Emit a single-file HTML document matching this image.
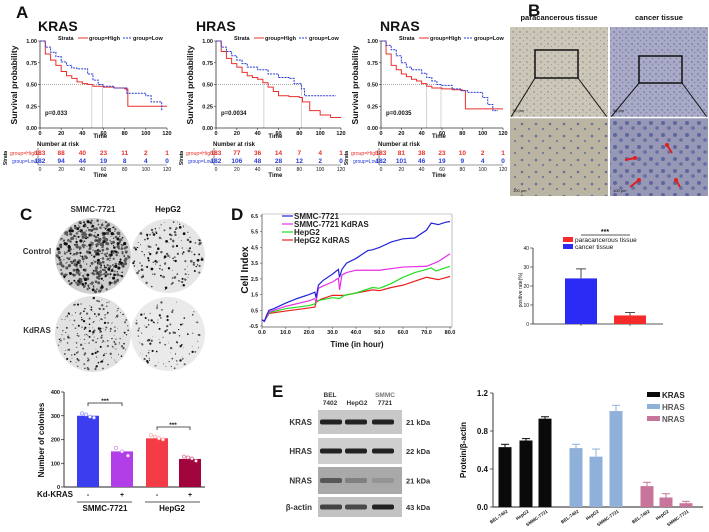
<!DOCTYPE html>
<html><head><meta charset="utf-8"><style>
html,body{margin:0;padding:0;background:#fff;width:709px;height:532px;overflow:hidden}
svg{display:block;font-family:"Liberation Sans",Arial,sans-serif}
</style></head><body>
<svg id="fig" width="709" height="532" viewBox="0 0 709 532" xmlns="http://www.w3.org/2000/svg">
<defs>
<pattern id="paraTop" width="7" height="6" patternUnits="userSpaceOnUse"><rect width="7" height="6" fill="#cbc6b6"/><circle cx="2" cy="2" r="0.7" fill="#7a7f98"/><circle cx="5.5" cy="4.5" r="0.5" fill="#8a8ea4"/></pattern>
<pattern id="cancTop" width="6" height="6" patternUnits="userSpaceOnUse"><rect width="6" height="6" fill="#a9abc6"/><circle cx="2" cy="2" r="0.9" fill="#7278a6"/><circle cx="4.5" cy="4.5" r="0.8" fill="#7d82ae"/></pattern>
<pattern id="paraBot" width="14" height="12" patternUnits="userSpaceOnUse"><rect width="14" height="12" fill="#bab4a2"/><circle cx="4" cy="4" r="1.3" fill="#6a7294"/><circle cx="11" cy="9" r="1.1" fill="#737a98"/></pattern>
<pattern id="cancBot" width="12" height="12" patternUnits="userSpaceOnUse"><rect width="12" height="12" fill="#9698b6"/><circle cx="3" cy="3" r="2" fill="#5f669e"/><circle cx="9" cy="8" r="1.8" fill="#676ea2"/></pattern>
</defs>
</svg>
<script>
// ===== Panel A data (Kaplan-Meier) =====
const kmTicksX = [0,20,40,60,80,100,120];
const kmTicksY = [0,0.25,0.5,0.75,1.0];
const krasHighT = [0,5,10,15,20,25,30,35,40,45,50,60,70,80,83,120];
const krasHighS = [1,0.85,0.78,0.72,0.65,0.6,0.57,0.53,0.51,0.5,0.48,0.47,0.46,0.45,0.25,0.25];
const krasLowT = [0,5,10,15,20,25,30,35,45,50,55,60,70,82,100,105,115];
const krasLowS = [1,0.93,0.87,0.82,0.76,0.72,0.69,0.68,0.62,0.55,0.5,0.48,0.46,0.4,0.37,0.3,0.2];
const hrasHighT = [0,5,10,15,20,25,30,35,40,45,50,55,60,70,80,83,90,100,110,120];
const hrasHighS = [1,0.88,0.8,0.74,0.7,0.64,0.6,0.58,0.56,0.52,0.47,0.42,0.37,0.36,0.35,0.3,0.2,0.15,0.12,0.12];
const hrasLowT = [0,5,10,15,20,25,30,40,50,60,70,75,80,82,85,115];
const hrasLowS = [1,0.93,0.88,0.83,0.78,0.74,0.7,0.67,0.62,0.58,0.57,0.51,0.51,0.45,0.37,0.37];
const nrasHighT = [0,5,10,15,20,25,30,35,40,45,50,60,70,80,83,120];
const nrasHighS = [1,0.85,0.72,0.67,0.62,0.59,0.56,0.54,0.51,0.48,0.46,0.45,0.44,0.43,0.22,0.22];
const nrasLowT = [0,5,10,15,20,25,30,40,45,50,55,60,70,78,85,100,105,110,115];
const nrasLowS = [1,0.95,0.9,0.83,0.75,0.7,0.67,0.63,0.58,0.54,0.5,0.49,0.45,0.43,0.41,0.35,0.27,0.2,0.2];
const krasRiskHigh = [183,88,40,23,11,2,1];
const krasRiskLow = [182,94,44,19,8,4,0];
const hrasRiskHigh = [183,77,36,14,7,4,1];
const hrasRiskLow = [182,106,48,28,12,2,0];
const nrasRiskHigh = [183,81,38,23,10,2,1];
const nrasRiskLow = [182,101,46,19,9,4,0];
const krasMedians = [49,59];
const hrasMedians = [46,82];
const nrasMedians = [45,59];
// ===== Panel B bar data =====
const ihcCats = ['cancer tissue','paracancerous tissue'];
const ihcValues = [24,4.5];
const ihcErrors = [5,1.5];
const ihcTicks = [0,10,20,30,40];
// ===== Panel C bar data =====
const colCats = ['SMMC-7721 -','SMMC-7721 +','HepG2 -','HepG2 +'];
const colValues = [300,150,205,118];
const colDots = [[310,305,296,292],[165,150,132],[218,212,205,200],[128,124,120,110]];
const colTicks = [0,100,200,300,400];
// ===== Panel D data (cell index) =====
const ciTicksX = [0,10,20,30,40,50,60,70,80];
const ciTicksY = [-0.5,0.5,1.5,2.5,3.5,4.5,5.5,6.5];
const smmcT = [0,1,2,3,5,10,15,20,22.5,23,24,26,30,32.5,33,34,36,40,45,47,50,55,60,65,70,72,75,78,80];
const smmcV = [-0.1,-0.2,0.2,0.5,0.6,0.95,1.25,1.5,1.65,1.3,2.1,2.4,2.8,3.1,2.6,3.1,3.5,3.8,4.3,4.35,4.5,4.85,5.05,5.1,5.6,6.05,5.95,6.1,6.15];
const smmcKdT = [0,1,3,10,20,22.5,23,24,26,30,32.5,33,34,36,40,50,60,70,75,80];
const smmcKdV = [-0.1,-0.2,0.4,0.75,1.1,1.25,1.0,1.9,2.05,2.3,2.55,1.8,2.75,2.9,3.05,3.05,3.25,3.3,3.6,4.1];
const hepT = [0,1,3,10,20,22.5,23,25,30,33,35,40,47,50,55,60,65,70,72,74,80];
const hepV = [-0.1,-0.2,0.35,0.6,0.8,0.9,1.1,1.15,1.3,1.25,1.45,1.6,1.95,1.9,2.2,2.6,2.9,3.1,3.2,3.0,3.3];
const hepKdT = [0,1,3,10,20,22.5,23,25,30,33,35,40,47,50,55,60,65,70,75,80];
const hepKdV = [-0.1,-0.2,0.3,0.45,0.65,0.7,1.0,1.2,1.45,1.45,1.45,1.6,1.8,1.75,1.95,2.1,2.35,2.6,2.45,2.65];
// ===== Panel E bar data =====
const eCells = ['BEL-7402','HepG2','SMMC-7721'];
const eKras = [0.63,0.70,0.93];
const eKrasErr = [0.03,0.02,0.02];
const eHras = [0.62,0.53,1.01];
const eHrasErr = [0.04,0.08,0.06];
const eNras = [0.22,0.10,0.04];
const eNrasErr = [0.04,0.04,0.02];
const eTicks = [0,0.4,0.8,1.2];

const NS='http://www.w3.org/2000/svg';
const svg=document.getElementById('fig');
function mk(t,a,p){const e=document.createElementNS(NS,t);for(const k in a)e.setAttribute(k,a[k]);(p||svg).appendChild(e);return e;}
function nm(e,n,i){
  
  
  return e;}
function tx(x,y,s,size,o){o=o||{};const e=mk('text',{x:x,y:y,'font-size':size,'font-weight':o.w||'bold',fill:o.f||'#111','text-anchor':o.a||'start'});if(o.r)e.setAttribute('transform','rotate('+o.r+' '+x+' '+y+')');if(o.tl){e.setAttribute('textLength',o.tl);e.setAttribute('lengthAdjust','spacingAndGlyphs');}e.textContent=s;return e;}
function ln(x1,y1,x2,y2,c,w,d){const e=mk('line',{x1:x1,y1:y1,x2:x2,y2:y2,stroke:c||'#222','stroke-width':w||1});if(d)e.setAttribute('stroke-dasharray',d);return e;}
function rc(x,y,w,h,f){return mk('rect',{x:x,y:y,width:w,height:h,fill:f});}

// panel letters
nm(tx(16,18,'A',17),'panel-label-a');
nm(tx(528,16,'B',17),'panel-label-b');
nm(tx(20,220,'C',17),'panel-label-c');
nm(tx(231,220,'D',17),'panel-label-d');
nm(tx(272,397,'E',17),'panel-label-e');

// ===== Panel A =====
function km(c){
  const X=t=>c.x0+(c.x1-c.x0)*t/120, Y=s=>128-(128-41)*s;
  nm(tx(c.tx,31,c.title,14),c.key+'-title');
  nm(tx(c.x0+18,40,'Strata',5.5),c.key+'-legend-title');
  nm(ln(c.x0+38,38,c.x0+48,38,'#e8302a',1),c.key+'-legend-high-line');
  nm(tx(c.x0+49,40,'group=High',5.5),c.key+'-legend-high');
  nm(ln(c.x0+83,38,c.x0+92,38,'#2a3ad8',1,'2,1'),c.key+'-legend-low-line');
  nm(tx(c.x0+93,40,'group=Low',5.5),c.key+'-legend-low');
  nm(ln(c.x0,41,c.x0,128,'#333',0.8),c.key+'-y-axis');
  nm(ln(c.x0,128,c.x1,128,'#333',0.8),c.key+'-x-axis');
  kmTicksY.forEach(v=>{ln(c.x0-2,Y(v),c.x0,Y(v),'#333',0.6);nm(tx(c.x0-3,Y(v)+2,v.toFixed(2),5.5,{a:'end'}),c.key+'-y-tick');});
  kmTicksX.forEach(v=>{ln(X(v),128,X(v),130,'#333',0.6);nm(tx(X(v),135,String(v),5.5,{a:'middle'}),c.key+'-x-tick');});
  nm(tx(c.x0-23,85,'Survival probability',8.5,{a:'middle',r:-90}),c.key+'-y-axis-title');
  nm(tx(X(57),138,'Time',6,{a:'middle'}),c.key+'-x-axis-title');
  nm(ln(c.x0,Y(0.5),X(c.med[1]),Y(0.5),'#555',0.5,'1,1'),c.key+'-median-h');
  c.med.forEach(m=>nm(ln(X(m),Y(0.5),X(m),128,'#555',0.5,'1,1'),c.key+'-median-v'));
  function step(T,S,col,dash,name){let d='M'+X(T[0])+','+Y(S[0]);for(let i=1;i<T.length;i++)d+=' H'+X(T[i])+' V'+Y(S[i]);const p=mk('path',{d:d,fill:'none',stroke:col,'stroke-width':1});if(dash)p.setAttribute('stroke-dasharray',dash);nm(p,name);}
  step(c.hT,c.hS,'#e8302a',null,c.key+'-curve-high');
  step(c.lT,c.lS,'#2a3ad8','2,1',c.key+'-curve-low');
  nm(tx(c.x0+5,115,c.p,6,{w:'bold'}),c.key+'-p-value');
  nm(tx(c.x0-3,146,'Number at risk',6),c.key+'-risk-title');
  ln(c.x0-2,148,c.x0-2,165,'#333',0.6);ln(c.x0-2,165,c.x1,165,'#333',0.6);
  nm(tx(c.x0-3,155,'group=High',5,{a:'end',f:'#e8302a',w:'normal',tl:27}),c.key+'-risk-label-high');
  nm(tx(c.x0-3,163,'group=Low',5,{a:'end',f:'#2a3ad8',w:'normal',tl:25}),c.key+'-risk-label-low');
  nm(tx(c.x0-33,158,'Strata',5,{a:'middle',r:-90}),c.key+'-risk-strata');
  kmTicksX.forEach((v,i)=>{
    nm(tx(X(v),155,String(c.rH[i]),6.5,{a:'middle',f:'#e8302a'}),c.key+'-risk-high');
    nm(tx(X(v),163,String(c.rL[i]),6.5,{a:'middle',f:'#2a3ad8'}),c.key+'-risk-low');
    nm(tx(X(v),171,String(v),5,{a:'middle',w:'normal'}),c.key+'-risk-tick');
  });
  nm(tx(X(57),177,'Time',6,{a:'middle'}),c.key+'-risk-time');
}
km({key:'kras',title:'KRAS',tx:38,x0:40,x1:167,hT:krasHighT,hS:krasHighS,lT:krasLowT,lS:krasLowS,med:krasMedians,p:'p=0.033',rH:krasRiskHigh,rL:krasRiskLow});
km({key:'hras',title:'HRAS',tx:196,x0:216,x1:341,hT:hrasHighT,hS:hrasHighS,lT:hrasLowT,lS:hrasLowS,med:hrasMedians,p:'p=0.0034',rH:hrasRiskHigh,rL:hrasRiskLow});
km({key:'nras',title:'NRAS',tx:380,x0:381,x1:503,hT:nrasHighT,hS:nrasHighS,lT:nrasLowT,lS:nrasLowS,med:nrasMedians,p:'p=0.0035',rH:nrasRiskHigh,rL:nrasRiskLow});

// ===== Panel B images =====
nm(tx(559,20,'paracancerous tissue',7.5,{a:'middle'}),'para-header');
nm(tx(659,20,'cancer tissue',7.5,{a:'middle'}),'cancer-header');
nm(rc(510,27,98,90,'url(#paraTop)'),'para-image-low-mag');
nm(rc(610,27,98,90,'url(#cancTop)'),'cancer-image-low-mag');
nm(rc(510,118,98,78,'url(#paraBot)'),'para-image-high-mag');
nm(rc(610,118,98,78,'url(#cancBot)'),'cancer-image-high-mag');
nm(mk('rect',{x:535,y:50,width:43,height:28,fill:'none',stroke:'#111','stroke-width':1.5}),'para-inset-box');
nm(mk('rect',{x:639,y:56,width:43,height:27,fill:'none',stroke:'#111','stroke-width':1.5}),'cancer-inset-box');
ln(535,78,511,117,'#111',1);ln(578,78,607,117,'#111',1);
ln(639,83,611,117,'#111',1);ln(682,83,707,117,'#111',1);
ln(510,117.5,708,117.5,'#fff',1.5);ln(609,27,609,196,'#fff',1.5);
nm(tx(513,112,'50 μm',4,{w:'normal'}),'para-scale-bar');
nm(tx(613,112,'50 μm',4,{w:'normal'}),'cancer-scale-bar');
nm(tx(513,192,'100 μm',4,{w:'normal'}),'para-scale-bar-2');
nm(tx(613,192,'100 μm',4,{w:'normal'}),'cancer-scale-bar-2');
[[625,160,635,158],[672,153,667,145],[630,187,639,180],[680,187,676,180]].forEach(a=>{
  nm(ln(a[0],a[1],a[2],a[3],'#e02020',2),'ihc-arrow');
  nm(mk('circle',{cx:a[2],cy:a[3],r:2,fill:'#e02020'}),'ihc-arrow-head');
});
(function(){
  const y0=324,sc=1.9,Y=v=>y0-v*sc;
  nm(ln(533,Y(40),533,y0,'#222',0.8),'ihc-y-axis');
  nm(ln(533,y0,663,y0,'#222',0.8),'ihc-x-axis');
  ihcTicks.forEach(v=>{ln(530,Y(v),533,Y(v),'#222',0.6);nm(tx(529,Y(v)+2,String(v),5,{a:'end',w:'normal'}),'ihc-y-tick');});
  nm(tx(522,290,'positive rate(%)',5,{a:'middle',w:'normal',r:-90}),'ihc-y-axis-title');
  const cx=[581,630],col=['#2b2bf5','#f52b2b'];
  ihcValues.forEach((v,i)=>{
    nm(rc(cx[i]-16,Y(v),32,v*sc,col[i]),'ihc-bar-'+(i?'para':'cancer'));
    nm(ln(cx[i],Y(v),cx[i],Y(v+ihcErrors[i]),'#222',0.8),'ihc-error');
    ln(cx[i]-5,Y(v+ihcErrors[i]),cx[i]+5,Y(v+ihcErrors[i]),'#222',0.8);
    ln(cx[i],y0,cx[i],y0+2,'#222',0.6);
  });
  nm(ln(581,235,630,235,'#222',0.8),'ihc-sig-bracket');
  nm(tx(605,234,'***',7,{a:'middle'}),'ihc-sig-stars');
  nm(rc(563,237,10,5,'#f52b2b'),'ihc-legend-para-swatch');
  nm(tx(575,242,'paracancerous tissue',6.5,{w:'normal'}),'ihc-legend-para');
  nm(rc(563,244,10,5,'#2b2bf5'),'ihc-legend-cancer-swatch');
  nm(tx(575,249,'cancer tissue',6.5,{w:'normal'}),'ihc-legend-cancer');
})();

// ===== Panel C dishes =====
let seed=7;function rnd(){seed=(seed*16807)%2147483647;return seed/2147483647;}
function dish(cx,cy,r,n,maxR,bg,name){
  const g=nm(mk('g',{}),name);
  mk('circle',{cx:cx,cy:cy,r:r,fill:bg},g);
  for(let i=0;i<n;i++){const a=rnd()*6.283,d=Math.sqrt(rnd())*r*0.96;mk('circle',{cx:cx+d*Math.cos(a),cy:cy+d*Math.sin(a),r:0.3+rnd()*maxR,fill:rnd()<0.4?'#111':'#555'},g);}
}
nm(tx(93,212,'SMMC-7721',8,{a:'middle',f:'#333'}),'colony-col-smmc');
nm(tx(168,212,'HepG2',8,{a:'middle'}),'colony-col-hepg2');
nm(tx(37,254,'Control',8,{a:'middle',f:'#333'}),'colony-row-control');
nm(tx(37,333,'KdRAS',8,{a:'middle',f:'#333'}),'colony-row-kdras');
dish(93,256,38,520,1.4,'#cfcfcf','dish-smmc-control');
dish(168,256,37,170,1.1,'#e6e6e6','dish-hepg2-control');
dish(93,334,38,220,0.9,'#e2e2e2','dish-smmc-kdras');
dish(168,334,37,110,0.9,'#eaeaea','dish-hepg2-kdras');

(function(){
  const y0=487,sc=95/400,Y=v=>y0-v*sc;
  nm(ln(64,392,64,y0,'#222',0.9),'colony-y-axis');
  nm(ln(64,y0,205,y0,'#222',0.9),'colony-x-axis');
  colTicks.forEach(v=>{ln(61,Y(v),64,Y(v),'#222',0.7);nm(tx(60,Y(v)+2,String(v),5.5,{a:'end'}),'colony-y-tick');});
  nm(tx(44,440,'Number of colonies',8,{a:'middle',r:-90}),'colony-y-axis-title');
  const cx=[88,122,157,190],col=['#3d3df0','#b23ee8','#f43c46','#a0063d'],stroke=['#7d7dff','#d07af5','#ff8a8a','#d04070'];
  colValues.forEach((v,i)=>{
    nm(rc(cx[i]-11,Y(v),22,v*sc,col[i]),'colony-bar-'+i);
    colDots[i].forEach((d,j)=>nm(mk('circle',{cx:cx[i]-6+j*12/Math.max(1,colDots[i].length-1),cy:Y(d),r:1.6,fill:'#fff',stroke:stroke[i],'stroke-width':0.6}),'colony-point'));
    nm(tx(cx[i],497,i%2?'+':'-',7,{a:'middle'}),'kd-sign');
  });
  nm(mk('path',{d:'M88,406 V403 H122 V406',fill:'none',stroke:'#222','stroke-width':0.8}),'colony-sig-1');
  nm(tx(105,403,'***',6.5,{a:'middle'}),'colony-stars-1');
  nm(mk('path',{d:'M157,430 V427 H190 V430',fill:'none',stroke:'#222','stroke-width':0.8}),'colony-sig-2');
  nm(tx(173,427,'***',6.5,{a:'middle'}),'colony-stars-2');
  nm(tx(73,497,'Kd-KRAS',8,{a:'end'}),'kd-kras-label');
  ln(77,502,132,502,'#222',0.8);ln(145,502,200,502,'#222',0.8);
  nm(tx(105,511,'SMMC-7721',8,{a:'middle'}),'group-smmc');
  nm(tx(172,511,'HepG2',8,{a:'middle'}),'group-hepg2');
})();

// ===== Panel D =====
(function(){
  const X=t=>262+(450-262)*t/80, Y=v=>326-(v+0.5)*(110/7);
  nm(ln(262,214,262,327,'#555',0.8),'ci-y-axis');
  nm(ln(262,327,452,327,'#555',0.8),'ci-x-axis');
  ln(452,214,452,327,'#999',0.6);ln(262,214,452,214,'#999',0.6);
  ciTicksY.forEach(v=>{ln(260,Y(v),262,Y(v),'#555',0.6);nm(tx(258,Y(v)+2,v.toFixed(1),5,{a:'end'}),'ci-y-tick');});
  ciTicksX.forEach(v=>{ln(X(v),327,X(v),329,'#555',0.6);nm(tx(X(v),334,v.toFixed(1),5.5,{a:'middle'}),'ci-x-tick');});
  nm(tx(248,270,'Cell Index',10,{a:'middle',r:-90}),'ci-y-axis-title');
  nm(tx(357,347,'Time (in hour)',8,{a:'middle'}),'ci-x-axis-title');
  function line(T,V,c,name){nm(mk('polyline',{points:T.map((t,i)=>X(t)+','+Y(V[i])).join(' '),fill:'none',stroke:c,'stroke-width':1.2}),name);}
  line(hepKdT,hepKdV,'#e82020','ci-line-hepg2-kdras');
  line(hepT,hepV,'#22dd22','ci-line-hepg2');
  line(smmcKdT,smmcKdV,'#e82ee8','ci-line-smmc-kdras');
  line(smmcT,smmcV,'#2222dd','ci-line-smmc');
  [['SMMC-7721','#2222dd'],['SMMC-7721 KdRAS','#e82ee8'],['HepG2','#22dd22'],['HepG2 KdRAS','#e82020']].forEach((e,i)=>{
    nm(ln(282,216+i*8,293,216+i*8,e[1],1.2),'ci-legend-line');
    nm(tx(294,219+i*8,e[0],8,{f:'#222'}),'ci-legend-label');
  });
})();

// ===== Panel E blots =====
nm(tx(330,397,'BEL',6.5,{a:'middle',f:'#333'}),'blot-col-bel');
nm(tx(330,405,'7402',6.5,{a:'middle',f:'#333'}),'blot-col-bel-2');
nm(tx(357,405,'HepG2',6.5,{a:'middle',f:'#333'}),'blot-col-hepg2');
nm(tx(385,397,'SMMC',6.5,{a:'middle',f:'#777'}),'blot-col-smmc');
nm(tx(385,405,'7721',6.5,{a:'middle',f:'#333'}),'blot-col-smmc-2');
[['KRAS',410,434,'21 kDa',[1,1,1],'#c8c8c8'],['HRAS',438,464,'22 kDa',[1,1,1],'#cfcfcf'],['NRAS',467,494,'21 kDa',[0.6,0.3,0.15],'#a9a9a9'],['β-actin',497,517,'43 kDa',[0.8,0.75,1],'#c2c2c2']].forEach(b=>{
  const g=nm(mk('g',{}),'blot-'+b[0].toLowerCase());
  mk('rect',{x:318,y:b[1],width:84,height:b[2]-b[1],fill:b[5]},g);
  const cy=(b[1]+b[2])/2;[331,356,383].forEach((x,i)=>mk('rect',{x:x-11,y:cy-2.5,width:22,height:5,rx:2,fill:'#222','fill-opacity':b[4][i]},g));
  nm(tx(312,cy+3,b[0],8,{a:'end',f:'#333'}),'blot-label');
  nm(tx(406,cy+3,b[3],7.5,{f:'#333'}),'blot-kda');
});
(function(){
  const y0=507,sc=(507-393)/1.2,Y=v=>y0-v*sc;
  nm(ln(493,393,493,y0,'#222',0.9),'e-y-axis');
  nm(ln(493,y0,703,y0,'#222',0.9),'e-x-axis');
  eTicks.forEach(v=>{ln(490,Y(v),493,Y(v),'#222',0.7);nm(tx(488,Y(v)+3,v.toFixed(1),8,{a:'end'}),'e-y-tick');});
  nm(tx(466,450,'Protein/β-actin',8,{a:'middle',r:-90}),'e-y-axis-title');
  const groups=[[eKras,eKrasErr,'#0a0a0a',[505,526,545],'kras'],[eHras,eHrasErr,'#8fb0d8',[576,596,616],'hras'],[eNras,eNrasErr,'#c9749a',[647,666,686],'nras']];
  groups.forEach(g=>{
    g[0].forEach((v,i)=>{
      const x=g[3][i];
      nm(rc(x-6.5,Y(v),13,v*sc,g[2]),'e-bar-'+g[4]+'-'+i);
      nm(ln(x,Y(v),x,Y(v+g[1][i]),g[2],1),'e-error');
      ln(x-4,Y(v+g[1][i]),x+4,Y(v+g[1][i]),g[2],1);
      nm(tx(x+3,512,eCells[i],4.5,{a:'end',r:-35}),'e-x-label');
    });
  });
  [['KRAS','#0a0a0a'],['HRAS','#8fb0d8'],['NRAS','#c9749a']].forEach((e,i)=>{
    nm(rc(647,392+i*12,13,5,e[1]),'e-legend-swatch');
    nm(tx(662,398+i*12,e[0],8,{f:i?'#555':'#222'}),'e-legend-label');
  });
})();
</script>
</body></html>
